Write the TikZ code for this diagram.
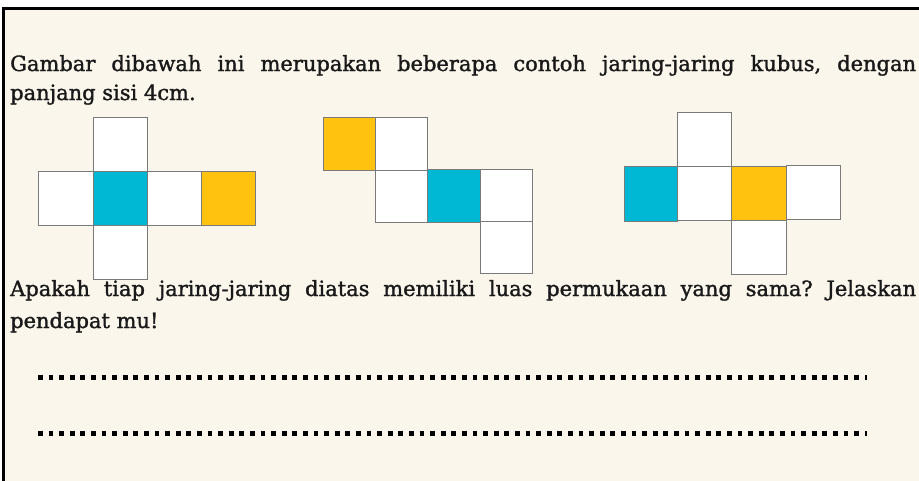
\documentclass[tikz,border=0pt]{standalone}
\usepackage{fontspec}
\setmainfont{DejaVu Serif}[FakeBold=1.4]
\frenchspacing
\definecolor{cream}{HTML}{FAF6EC}
\definecolor{cyanf}{HTML}{00B7D4}
\definecolor{orangef}{HTML}{FFC20E}
\definecolor{edgec}{HTML}{7A7A7A}
\tikzset{
  face/.style={draw=edgec, line width=0.9pt, fill=white},
  txt/.style={anchor=base west, inner sep=0pt, font=\fontsize{21}{25}\selectfont, text=black!90},
  dots/.style={line width=5pt, dash pattern=on 4.8pt off 5.8pt, black}
}
\begin{document}
\begin{tikzpicture}[x=1pt,y=-1pt]
\useasboundingbox (0,0) rectangle (919,480);
\fill[white] (0,0) rectangle (919,480);
\draw[fill=cream, line width=3pt] (3,8.5) rectangle (930,490);
% texts
\node[txt] (t1) at (10,71) {\makebox[906pt][s]{Gambar dibawah ini merupakan beberapa contoh jaring-jaring kubus, dengan}};
\node[txt] (t2) at (10,100) {panjang sisi 4cm.};
\node[txt] (t3) at (10,296) {\makebox[906pt][s]{Apakah tiap jaring-jaring diatas memiliki luas permukaan yang sama? Jelaskan}};
\node[txt] (t4) at (10,328) {pendapat mu!};
% net 1
\draw[face] (93,117) rectangle (147,171);
\draw[face] (38,171) rectangle (93,225);
\draw[face, fill=cyanf] (93,171) rectangle (147,225);
\draw[face] (147,171) rectangle (201,225);
\draw[face, fill=orangef] (201,171) rectangle (255,225);
\draw[face] (93,225) rectangle (147,279);
% net 2
\draw[face, fill=orangef] (323,117) rectangle (375,170);
\draw[face] (375,117) rectangle (427,170);
\draw[face] (375,170) rectangle (427,222);
\draw[face, fill=cyanf] (427,169) rectangle (480,222);
\draw[face] (480,169) rectangle (532,221);
\draw[face] (480,221) rectangle (532,273);
% net 3
\draw[face] (677,112) rectangle (731,166);
\draw[face, fill=cyanf] (624,166) rectangle (677,221);
\draw[face] (677,166) rectangle (731,220);
\draw[face, fill=orangef] (731,166) rectangle (786,220);
\draw[face] (786,165) rectangle (840,219);
\draw[face] (731,220) rectangle (786,274);
% answer lines
\coordinate (a1) at (38,377);
\coordinate (b1) at (867,377);
\coordinate (a2) at (38,433);
\coordinate (b2) at (867,433);
\draw[dots] (a1) -- (b1);
\draw[dots] (a2) -- (b2);
\end{tikzpicture}
\end{document}
